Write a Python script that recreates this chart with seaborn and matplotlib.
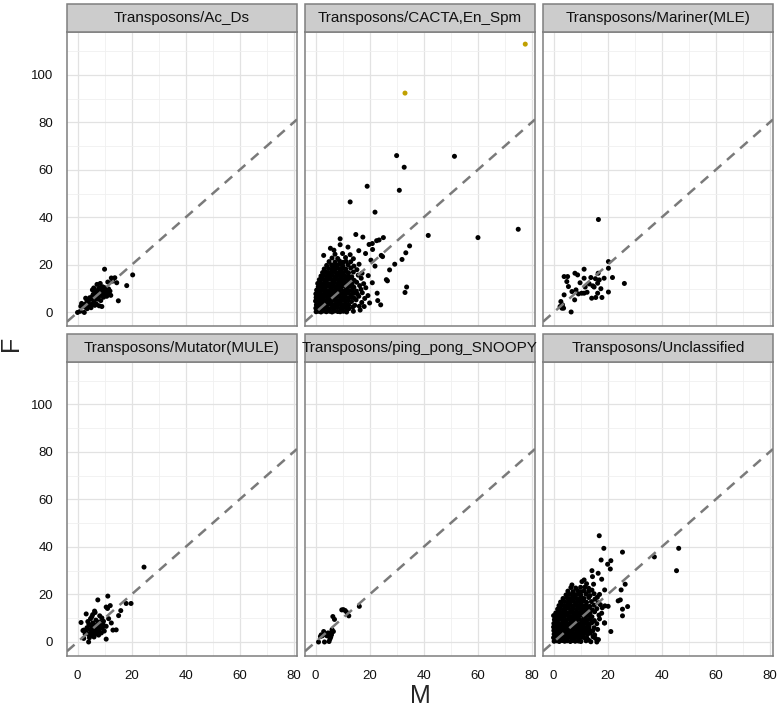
import matplotlib
matplotlib.use("Agg")
import matplotlib.pyplot as plt
from matplotlib.patches import Rectangle
import seaborn as sns
import pandas as pd

# ---------------- data ----------------
panel_names = ["Transposons/Ac_Ds", "Transposons/CACTA,En_Spm", "Transposons/Mariner(MLE)",
               "Transposons/Mutator(MULE)", "Transposons/ping_pong_SNOOPY", "Transposons/Unclassified"]

x_ticks = [0, 20, 40, 60, 80]
y_ticks = [0, 20, 40, 60, 80, 100]

acds_points = [
    (0.0, 0.0), (1.0, 0.5), (2.5, 0.0), (1.5, 3.8), (1.2, 2.6), (2.2, 3.2), (2.8, 2.2), (3.0, 3.6),
    (3.6, 1.6), (4.0, 4.1), (4.4, 2.8), (4.9, 5.5), (5.2, 3.4), (5.5, 6.8), (5.8, 7.6), (6.0, 5.2),
    (6.2, 4.3), (6.5, 7.2), (6.7, 8.4), (6.9, 6.1), (7.1, 9.0), (7.3, 7.7), (7.5, 5.6), (7.6, 8.8),
    (7.8, 10.1), (8.0, 6.9), (8.1, 9.6), (8.3, 7.9), (8.5, 10.5), (8.6, 5.0), (8.8, 8.6), (9.0, 9.9),
    (9.1, 7.4), (9.3, 10.8), (9.5, 8.1), (9.6, 6.4), (9.8, 9.3), (10.0, 10.4), (10.2, 7.8), (10.4, 8.9),
    (10.6, 10.1), (10.8, 6.8), (11.0, 9.6), (11.3, 8.2), (11.5, 9.9), (12.0, 9.0), (12.3, 7.2), (6.4, 3.0),
    (5.0, 2.0), (3.5, 5.0), (4.5, 6.2), (7.0, 3.5), (8.0, 2.8), (9.0, 2.5), (10.0, 18.2), (20.4, 15.8),
    (18.2, 11.3), (15.1, 4.9), (13.0, 13.2), (13.8, 14.6), (14.5, 12.5), (12.5, 14.5), (11.2, 12.8),
    (7.2, 11.8), (8.4, 12.2), (3.0, 6.0), (5.5, 9.5), (6.0, 10.3),
]

cacta_points = [
    (0.2, 0.3), (1.1, 0.5), (2.0, 0.2), (3.1, 0.6), (4.0, 0.3), (5.2, 0.5), (6.1, 0.2), (7.0, 0.6),
    (8.2, 0.4), (9.1, 0.3), (10.3, 0.5), (11.5, 0.2),
    (0.1, 1.8), (1.0, 2.0), (2.2, 1.7), (3.0, 1.9), (4.1, 2.1), (5.0, 1.6), (6.2, 2.0), (7.1, 1.8),
    (8.0, 2.2), (9.2, 1.7), (10.1, 2.0), (11.3, 1.9), (12.4, 1.6), (13.8, 2.3),
    (0.3, 3.2), (1.2, 3.4), (2.1, 3.1), (3.2, 3.5), (4.0, 3.3), (5.1, 3.6), (6.0, 3.2), (7.2, 3.4),
    (8.1, 3.1), (9.0, 3.5), (10.2, 3.3), (11.1, 3.6), (12.3, 3.2), (14.5, 3.0), (16.2, 2.6),
    (0.0, 4.8), (1.1, 5.0), (2.0, 4.7), (3.1, 4.9), (4.2, 5.1), (5.0, 4.6), (6.1, 4.9), (7.0, 5.2),
    (8.2, 4.8), (9.1, 4.7), (10.0, 5.1), (11.2, 4.9), (12.1, 5.0), (13.3, 4.6), (15.0, 5.3), (17.1, 4.2),
    (0.2, 6.3), (1.0, 6.5), (2.1, 6.2), (3.0, 6.4), (4.1, 6.6), (5.2, 6.1), (6.0, 6.5), (7.1, 6.3),
    (8.0, 6.7), (9.2, 6.2), (10.1, 6.4), (11.0, 6.6), (12.2, 6.2), (13.1, 6.5), (14.3, 6.0), (16.0, 6.8),
    (18.2, 5.9),
    (0.1, 7.8), (1.2, 8.0), (2.0, 7.7), (3.2, 7.9), (4.0, 8.1), (5.1, 7.6), (6.2, 8.0), (7.0, 7.8),
    (8.1, 8.2), (9.0, 7.7), (10.2, 8.0), (11.1, 7.9), (12.0, 8.1), (13.2, 7.6), (14.1, 8.0), (15.5, 7.7),
    (17.3, 8.3), (19.4, 7.1),
    (0.4, 9.4), (1.5, 9.2), (2.4, 9.5), (3.5, 9.3), (4.6, 9.1), (5.5, 9.6), (6.4, 9.2), (7.6, 9.4),
    (8.5, 9.3), (9.4, 9.6), (10.6, 9.1), (11.5, 9.4), (12.4, 9.2), (13.6, 9.5), (15.1, 9.0), (16.8, 9.7),
    (1.0, 10.8), (2.1, 11.0), (3.0, 10.7), (4.1, 10.9), (5.2, 11.1), (6.0, 10.6), (7.1, 10.9), (8.2, 11.0),
    (9.0, 10.7), (10.1, 11.2), (11.2, 10.8), (12.0, 10.9), (13.1, 11.1), (14.2, 10.6), (16.3, 11.3),
    (18.6, 10.4),
    (0.8, 12.2), (1.9, 12.4), (3.1, 12.3), (4.0, 12.5), (5.1, 12.1), (6.2, 12.4), (7.0, 12.6), (8.1, 12.2),
    (9.2, 12.3), (10.0, 12.5), (11.1, 12.2), (12.3, 12.4), (13.5, 12.0), (15.2, 12.7), (17.8, 12.1),
    (1.4, 13.8), (2.5, 14.0), (3.6, 13.7), (4.5, 13.9), (5.6, 14.1), (6.5, 13.6), (7.4, 14.0), (8.6, 13.8),
    (9.5, 14.2), (10.4, 13.7), (11.6, 13.9), (12.8, 14.1), (14.3, 13.5), (16.9, 14.4),
    (2.0, 15.3), (3.0, 15.5), (4.1, 15.2), (5.0, 15.4), (6.2, 15.6), (7.1, 15.1), (8.0, 15.5), (9.1, 15.3),
    (10.2, 15.6), (11.0, 15.2), (12.1, 15.4), (13.4, 15.0), (15.8, 15.7),
    (2.6, 16.8), (3.9, 17.0), (5.1, 16.7), (6.0, 16.9), (7.2, 17.1), (8.1, 16.6), (9.0, 17.0), (10.1, 16.8),
    (11.3, 17.2), (12.2, 16.7), (14.0, 17.0), (17.2, 16.5),
    (3.2, 18.3), (4.8, 18.5), (6.0, 18.2), (7.1, 18.4), (8.2, 18.6), (9.1, 18.1), (10.0, 18.5), (11.2, 18.3),
    (13.0, 18.7), (15.3, 18.0),
    (4.1, 19.8), (5.9, 20.0), (7.0, 19.7), (8.1, 19.9), (9.2, 20.2), (10.1, 19.6), (12.0, 20.1), (14.2, 19.5),
    (16.1, 20.3),
    (5.0, 21.4), (7.2, 21.2), (8.9, 21.6), (10.2, 21.1), (11.3, 21.5), (13.0, 21.3),
    (6.1, 22.9), (8.2, 22.7), (11.1, 23.1), (14.0, 22.6),
    (7.2, 24.5), (10.0, 24.8), (12.8, 24.3),
    (9.1, 31.0), (9.1, 28.5), (14.9, 32.8), (17.5, 31.7), (22.6, 30.2), (23.5, 30.5), (25.1, 31.5),
    (19.8, 28.6), (21.0, 29.0), (21.1, 26.5), (24.8, 23.5), (24.3, 24.0), (29.3, 20.3), (32.0, 22.3),
    (33.4, 25.1), (34.8, 28.0), (27.4, 17.9), (26.6, 13.3), (26.2, 13.8), (24.1, 3.2), (23.0, 5.0),
    (22.8, 8.1), (33.7, 10.7), (33.1, 8.4), (30.0, 66.0), (51.4, 65.7), (32.8, 61.1), (19.1, 53.1),
    (31.0, 51.4), (12.8, 46.5), (22.0, 42.2), (41.7, 32.4), (60.1, 31.5), (75.0, 35.0),
    (5.5, 27.0), (3.0, 24.0), (6.8, 26.2), (12.0, 27.5), (16.0, 26.0), (18.5, 24.8), (20.5, 22.0),
    (22.0, 19.5), (19.5, 15.5), (21.0, 12.5), (20.0, 4.0), (18.0, 2.5), (14.0, 0.5), (16.5, 1.0),
]
cacta_outliers = [(33.1, 92.3), (77.6, 112.9)]

mariner_points = [
    (16.6, 39.1), (20.3, 21.4), (20.3, 18.6), (21.8, 14.7), (26.2, 12.2), (20.3, 8.6), (17.9, 6.3),
    (15.6, 6.3), (14.1, 6.0), (16.3, 8.1), (15.0, 10.7), (16.3, 12.3), (16.9, 13.7), (18.7, 14.4),
    (16.5, 16.5), (15.5, 14.2), (11.3, 18.2), (13.8, 14.7), (11.3, 14.4), (11.7, 10.7), (10.4, 8.1),
    (11.3, 8.1), (9.2, 7.8), (7.9, 16.5), (8.9, 15.8), (8.3, 9.5), (6.8, 8.8), (7.8, 5.3), (5.5, 10.9),
    (4.9, 13.0), (3.9, 15.1), (5.2, 15.1), (3.9, 7.4), (2.7, 4.6), (3.3, 3.2), (3.1, 1.8), (3.7, 1.8),
    (2.4, 2.5), (6.5, 0.2), (12.4, 8.5), (14.5, 11.2), (17.5, 10.0), (13.2, 12.0), (9.8, 12.5),
]

mutator_points = [
    (24.6, 31.5), (19.8, 16.2), (18.0, 16.2), (11.2, 19.3), (7.5, 17.7), (12.1, 15.3), (10.6, 14.7),
    (11.1, 14.1), (16.0, 13.2), (15.2, 11.1), (13.1, 5.0), (14.3, 5.1), (10.6, 1.2), (1.3, 8.2),
    (3.2, 11.8), (6.5, 12.4), (2.3, 5.0), (2.3, 1.5), (4.1, 0.0), (9.0, 10.1), (9.6, 8.7), (10.6, 6.6),
    (3.0, 4.5), (3.5, 6.0), (4.0, 3.2), (4.2, 7.4), (4.6, 5.1), (5.0, 4.0), (5.1, 6.6), (5.4, 2.8),
    (5.6, 8.0), (5.8, 5.4), (6.0, 3.6), (6.2, 7.0), (6.4, 4.8), (6.6, 6.2), (6.8, 9.2), (7.0, 5.0),
    (7.2, 3.4), (7.4, 7.6), (7.6, 6.0), (7.9, 4.2), (8.1, 8.4), (8.3, 5.6), (8.6, 6.8), (8.8, 3.8),
    (9.2, 5.9), (9.5, 7.2), (4.8, 9.8), (5.3, 10.6), (3.8, 8.6), (2.8, 3.4), (2.0, 4.8), (6.1, 2.1),
    (7.8, 2.9), (4.4, 1.8), (9.9, 4.6), (11.5, 9.8), (12.5, 8.0), (8.2, 11.0), (6.3, 13.0), (5.6, 11.5),
]

pingpong_points = [
    (16.2, 15.0), (9.7, 13.5), (11.0, 13.2), (11.6, 12.4), (12.3, 11.0), (10.3, 13.6), (6.4, 10.7),
    (7.0, 9.5), (6.6, 4.4), (5.3, 3.7), (5.9, 3.0), (5.3, 1.2), (5.0, 0.2), (3.0, 4.4), (2.1, 3.0),
    (1.1, 0.0), (3.3, 0.0), (4.2, 2.6), (2.5, 2.6), (4.6, 3.8), (5.6, 2.0), (1.8, 2.3), (6.1, 5.2),
    (3.8, 3.1),
]

unclassified_points = [
    (0.2, 0.3), (1.2, 0.5), (2.1, 0.2), (3.2, 0.6), (4.1, 0.3), (5.0, 0.5), (6.2, 0.2), (7.1, 0.6),
    (8.0, 0.3), (9.2, 0.4), (10.1, 0.2), (12.0, 0.5), (13.8, 0.1), (16.0, 0.0),
    (0.0, 1.8), (1.1, 2.0), (2.0, 1.7), (3.1, 1.9), (4.2, 2.1), (5.1, 1.6), (6.0, 2.0), (7.2, 1.8),
    (8.1, 2.2), (9.0, 1.7), (10.2, 2.0), (11.1, 1.9), (12.3, 1.6), (14.6, 2.2), (15.5, 1.5),
    (0.2, 3.3), (1.0, 3.5), (2.2, 3.2), (3.0, 3.4), (4.1, 3.6), (5.2, 3.1), (6.1, 3.5), (7.0, 3.3),
    (8.2, 3.6), (9.1, 3.2), (10.0, 3.4), (11.2, 3.5), (12.5, 3.1), (13.6, 3.7), (15.2, 3.0),
    (0.1, 4.8), (1.2, 5.0), (2.0, 4.7), (3.2, 4.9), (4.0, 5.1), (5.1, 4.6), (6.2, 5.0), (7.0, 4.8),
    (8.1, 5.2), (9.2, 4.7), (10.1, 4.9), (11.0, 5.1), (12.2, 4.6), (13.3, 5.0), (14.5, 4.7), (16.3, 5.3),
    (21.2, 4.4),
    (0.0, 6.3), (1.1, 6.5), (2.2, 6.2), (3.0, 6.4), (4.1, 6.6), (5.2, 6.1), (6.0, 6.5), (7.1, 6.3),
    (8.0, 6.7), (9.2, 6.2), (10.1, 6.4), (11.0, 6.6), (12.2, 6.2), (13.1, 6.5), (15.0, 6.0),
    (0.1, 7.8), (1.2, 8.0), (2.0, 7.7), (3.2, 7.9), (4.0, 8.1), (5.1, 7.6), (6.2, 8.0), (7.0, 7.8),
    (8.1, 8.2), (9.0, 7.7), (10.2, 8.0), (11.1, 7.9), (12.0, 8.1), (13.2, 7.6), (14.1, 8.0), (16.0, 7.7),
    (18.8, 8.0),
    (0.3, 9.4), (1.5, 9.2), (2.4, 9.5), (3.5, 9.3), (4.6, 9.1), (5.5, 9.6), (6.4, 9.2), (7.6, 9.4),
    (8.5, 9.3), (9.4, 9.6), (10.6, 9.1), (11.5, 9.4), (12.4, 9.2), (13.6, 9.5), (15.1, 9.0), (17.0, 9.7),
    (0.0, 11.1), (1.0, 10.8), (2.1, 11.0), (3.0, 10.7), (4.1, 10.9), (5.2, 11.1), (6.0, 10.6), (7.1, 10.9),
    (8.2, 11.0), (9.0, 10.7), (10.1, 11.2), (11.2, 10.8), (12.0, 10.9), (13.1, 11.1), (14.2, 10.6),
    (16.8, 11.3),
    (0.8, 12.2), (1.9, 12.4), (3.1, 12.3), (4.0, 12.5), (5.1, 12.1), (6.2, 12.4), (7.0, 12.6), (8.1, 12.2),
    (9.2, 12.3), (10.0, 12.5), (11.1, 12.2), (12.3, 12.4), (13.5, 12.0), (15.2, 12.7), (17.8, 12.1),
    (25.5, 11.0),
    (1.5, 13.8), (2.5, 14.0), (3.6, 13.7), (4.5, 13.9), (5.6, 14.1), (6.5, 13.6), (7.4, 14.0), (8.6, 13.8),
    (9.5, 14.2), (10.4, 13.7), (11.6, 13.9), (12.8, 14.1), (14.3, 13.5), (16.0, 14.0), (18.0, 14.4),
    (25.5, 13.8),
    (2.0, 15.3), (3.0, 15.5), (4.1, 15.2), (5.0, 15.4), (6.2, 15.6), (7.1, 15.1), (8.0, 15.5), (9.1, 15.3),
    (10.2, 15.6), (11.0, 15.2), (12.1, 15.4), (13.4, 15.0), (15.0, 15.5), (17.3, 15.7), (19.0, 15.2),
    (27.4, 14.9),
    (2.6, 16.8), (3.9, 17.0), (5.1, 16.7), (6.0, 16.9), (7.2, 17.1), (8.1, 16.6), (9.0, 17.0), (10.1, 16.8),
    (11.3, 17.2), (12.2, 16.7), (14.0, 17.0), (16.5, 16.5), (24.7, 17.7), (23.9, 17.3),
    (3.5, 18.3), (5.0, 18.5), (6.0, 18.2), (7.1, 18.4), (8.2, 18.6), (9.1, 18.1), (10.0, 18.5), (11.2, 18.3),
    (13.0, 18.7), (15.3, 18.0), (16.2, 18.8),
    (4.6, 19.8), (6.0, 20.0), (7.0, 19.7), (8.1, 19.9), (9.2, 20.2), (10.1, 19.6), (12.0, 20.1), (13.5, 19.5),
    (15.0, 20.3), (17.0, 20.0),
    (5.3, 21.4), (7.2, 21.2), (8.9, 21.6), (10.2, 21.1), (11.3, 21.5), (13.0, 21.3), (14.2, 21.8), (25.0, 21.9),
    (6.4, 22.9), (8.2, 22.7), (10.0, 23.0), (11.6, 23.1), (13.0, 22.6),
    (6.8, 24.0), (10.5, 25.4), (12.2, 24.5), (14.8, 24.3), (26.5, 24.3),
    (11.3, 26.1), (14.2, 30.0), (16.5, 28.9), (17.8, 26.4), (21.0, 30.7), (20.0, 32.7), (21.2, 34.2),
    (17.6, 34.5), (16.9, 44.7), (18.6, 39.4), (25.5, 37.8), (46.3, 39.4), (37.3, 35.8), (45.5, 30.0),
    (18.9, 21.9), (20.2, 15.0), (18.9, 8.0), (16.6, 1.0), (13.0, 0.8), (14.4, 27.5),
]

panel_points = [acds_points, cacta_points, mariner_points,
                mutator_points, pingpong_points, unclassified_points]

# ---------------- styling ----------------
sns.set_style("white")
plt.rcParams['font.family'] = ['Liberation Sans', 'DejaVu Sans']

BORDER = "#7f7f7f"
STRIP_FILL = "#cccccc"
TICK_COL = "#111111"

fig, axes = plt.subplots(2, 3, figsize=(7.8, 7.11), dpi=100, sharex=True, sharey=True)
fig.subplots_adjust(left=67/780, right=773/780, bottom=1 - 656/711, top=1 - 32/711,
                    wspace=0.035, hspace=0.119)

strip_h = 28 / 295

for i, ax in enumerate(axes.flat):
    pts = panel_points[i]
    df = pd.DataFrame(pts, columns=["M", "F"])
    df["grp"] = "normal"
    if i == 1:
        df_out = pd.DataFrame(cacta_outliers, columns=["M", "F"])
        df_out["grp"] = "outlier"
        df = pd.concat([df, df_out], ignore_index=True)
    sns.scatterplot(data=df, x="M", y="F", hue="grp",
                    palette={"normal": "black", "outlier": "#c0a000"},
                    s=13, linewidth=0, legend=False, ax=ax, zorder=3)
    ax.axline((0, 0), slope=1, color="#7a7a7a", lw=1.8, ls=(0, (4, 3)), zorder=4)

    ax.set_xlim(-3.9, 81.2)
    ax.set_ylim(-5.9, 118.0)
    ax.set_xticks(x_ticks)
    ax.set_yticks(y_ticks)
    ax.set_xticks([10, 30, 50, 70], minor=True)
    ax.set_yticks([10, 30, 50, 70, 90, 110], minor=True)
    ax.grid(which="major", color="#e2e2e2", lw=0.9)
    ax.grid(which="minor", color="#f0f0f0", lw=0.6)
    ax.set_axisbelow(True)
    ax.set_xlabel("")
    ax.set_ylabel("")
    for sp in ax.spines.values():
        sp.set_color(BORDER)
        sp.set_linewidth(1.1)

    row, col = divmod(i, 3)
    ax.tick_params(which="minor", length=0)
    ax.tick_params(axis="both", which="major", labelsize=9.5, labelcolor=TICK_COL,
                   color="#333333", width=0.8, length=6, pad=4, direction="out")
    if row == 0:
        ax.tick_params(axis="x", which="major", length=0)
    if col != 0:
        ax.tick_params(axis="y", which="major", length=0)

    ax.add_patch(Rectangle((0, 1), 1, strip_h, transform=ax.transAxes, clip_on=False,
                           facecolor=STRIP_FILL, edgecolor=BORDER, lw=1.1, zorder=5))
    ax.text(0.5, 1 + strip_h / 2, panel_names[i], transform=ax.transAxes,
            ha="center", va="center", fontsize=11, color="#111111", zorder=6, clip_on=False)

fig.text((67 + 773) / 2 / 780, 1 - 696 / 711, "M", fontsize=18, ha="center", va="center")
fig.text(11 / 780, 1 - 343 / 711, "F", fontsize=18, ha="center", va="center", rotation=90)

fig.savefig("out.png", dpi=100)
